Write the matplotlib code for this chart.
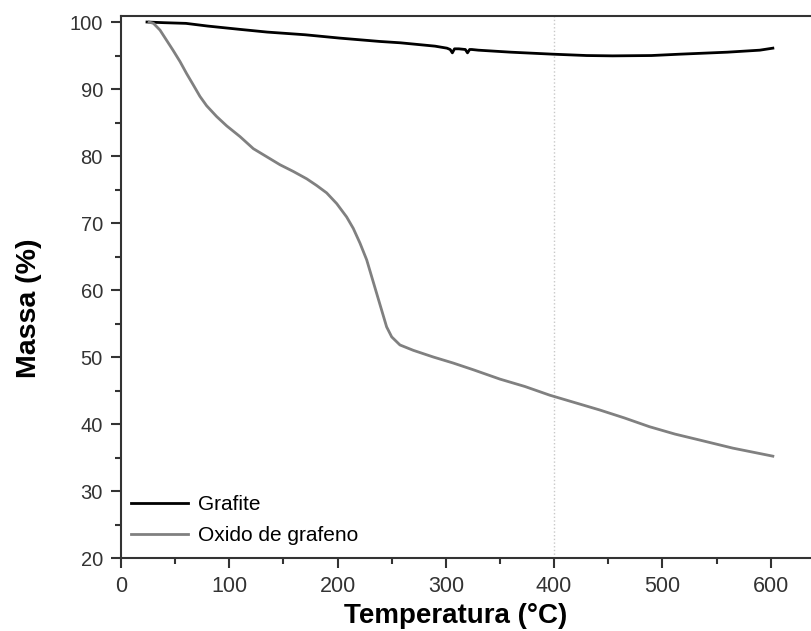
import numpy as np
import matplotlib.pyplot as plt
from matplotlib.ticker import MultipleLocator

plt.rc('font', family=['Liberation Sans', 'DejaVu Sans'])

# Grafite
t_graf = [24, 40, 60, 80, 110, 135, 170, 202, 239, 258, 290, 301, 304, 306, 308,
          312, 318, 320, 322, 324, 330, 360, 399, 430, 454, 490, 516, 560, 590, 602]
m_graf = [100.0, 99.9, 99.8, 99.4, 98.9, 98.5, 98.1, 97.6, 97.1, 96.9, 96.4, 96.1,
          95.9, 95.4, 96.0, 96.0, 95.9, 95.4, 95.9, 95.9, 95.8, 95.5, 95.2, 95.0,
          94.95, 95.0, 95.2, 95.5, 95.8, 96.1]

# Oxido de grafeno
t_ox = [26, 30, 36, 42, 48, 54.5, 60.6, 66.8, 72.9, 79.1, 88.3, 97.6, 109.9, 122.2,
        134.5, 146.8, 159.1, 171.5, 180.7, 189.9, 199.2, 208.4, 214.5, 220.7, 226.9,
        231.5, 236.1, 240.7, 245.3, 250, 257.6, 269.9, 288.4, 306.8, 325.3, 350,
        373, 396, 419, 442, 465, 488, 511.5, 534.6, 565, 602]
m_ox = [100.0, 99.8, 98.8, 97.3, 95.8, 94.1, 92.3, 90.6, 88.9, 87.5, 85.9, 84.5,
        82.9, 81.1, 79.9, 78.7, 77.7, 76.6, 75.6, 74.5, 72.9, 70.9, 69.2, 67.0,
        64.5, 62.0, 59.5, 57.0, 54.5, 53.0, 51.8, 51.0, 50.0, 49.1, 48.1, 46.7,
        45.6, 44.3, 43.2, 42.1, 40.9, 39.6, 38.5, 37.6, 36.4, 35.2]

fig = plt.figure(figsize=(8.12, 6.31), dpi=100)
ax = fig.add_axes([121/812, 73/631, 693/812, 542/631])

ax.axvline(400, color='#c8c8c8', linestyle=':', linewidth=1.0, zorder=0)
ax.plot(t_graf, m_graf, color='black', linewidth=2.0, label='Grafite')
ax.plot(t_ox, m_ox, color='#808080', linewidth=2.0, label='Oxido de grafeno')

ax.set_xlim(0, 640)
ax.set_ylim(20, 100.9)
ax.xaxis.set_major_locator(MultipleLocator(100))
ax.xaxis.set_minor_locator(MultipleLocator(50))
ax.yaxis.set_major_locator(MultipleLocator(10))
ax.yaxis.set_minor_locator(MultipleLocator(5))

ax.spines['right'].set_visible(False)
for s in ['left', 'bottom', 'top']:
    ax.spines[s].set_linewidth(1.5)
    ax.spines[s].set_color('#333333')

ax.tick_params(which='major', direction='out', length=7, width=1.5,
               labelcolor='#333333', color='#333333', pad=6)
ax.tick_params(which='minor', direction='out', length=4, width=1.5, color='#333333')
ax.tick_params(axis='x', labelsize=15.5)
ax.tick_params(axis='y', labelsize=14.5)
ax.tick_params(top=False, right=False)

ax.set_xlabel('Temperatura (°C)', fontsize=20, fontweight='bold')
ax.set_ylabel('Massa (%)', fontsize=20.5, fontweight='bold')
ax.xaxis.set_label_coords(0.483, -0.083)
ax.yaxis.set_label_coords(-0.114, 0.461)

ax.legend(loc='lower left', frameon=False, fontsize=15, handlelength=2.7,
          handletextpad=0.5, labelspacing=0.55, borderaxespad=0.1,
          bbox_to_anchor=(0.0, 0.005))

fig.savefig('out.png', dpi=100)
